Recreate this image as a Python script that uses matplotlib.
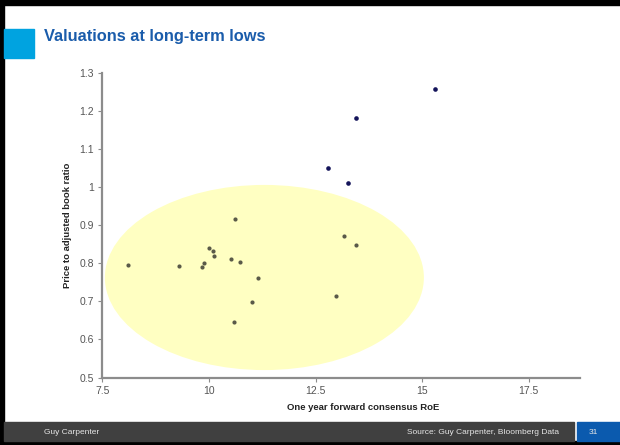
import matplotlib
matplotlib.use("Agg")
import matplotlib.pyplot as plt
from matplotlib.patches import Ellipse, Rectangle
from matplotlib.ticker import FuncFormatter

plt.rcParams['font.family'] = ['Liberation Sans', 'DejaVu Sans']

# Insurers with the highest valuations (dark markers)
roe_high = [15.31, 13.44, 12.78, 13.25]
pb_high = [1.256, 1.182, 1.049, 1.010]

# Insurers trading near long-term lows (grey markers)
roe_low = [8.11, 9.29, 9.83, 9.88, 10.01, 10.10, 10.11, 10.52, 10.62,
           10.74, 11.14, 11.00, 10.59, 13.17, 13.44, 12.99]
pb_low = [0.796, 0.793, 0.791, 0.800, 0.840, 0.833, 0.819, 0.811, 0.915,
          0.802, 0.760, 0.699, 0.646, 0.871, 0.848, 0.715]

x_ticks = [7.5, 10, 12.5, 15, 17.5]
y_ticks = [0.5, 0.6, 0.7, 0.8, 0.9, 1.0, 1.1, 1.2, 1.3]

title = "Valuations at long-term lows"
x_label = "One year forward consensus RoE"
y_label = "Price to adjusted book ratio"
footer_left = "Guy Carpenter"
footer_source = "Source: Guy Carpenter, Bloomberg Data"
page_no = "31"

W, H = 620, 445
fig = plt.figure(figsize=(W / 100, H / 100), dpi=100)
fig.patch.set_facecolor("white")

def fx(px):
    return px / W

def fy(py):
    return 1 - py / H

# Slide frame: black edges, footer bar, page box, title marker
bg = fig.add_axes([0, 0, 1, 1], zorder=-5)
bg.set_xlim(0, W)
bg.set_ylim(H, 0)
bg.axis("off")
bg.add_patch(Rectangle((0, 0), W, 5, color="black"))
bg.add_patch(Rectangle((0, 0), 4, H, color="black"))
bg.add_patch(Rectangle((0, 441), W, 4, color="black"))
bg.add_patch(Rectangle((4, 422), 570, 19, color="#404040"))
bg.add_patch(Rectangle((577, 422), 43, 19, color="#0B5AAE"))
bg.add_patch(Rectangle((4, 29), 30, 29, color="#00A3E0"))

fig.text(fx(44), fy(37), title, fontsize=11.8, fontweight="bold",
         color="#1A5CAB", ha="left", va="center")
fig.text(fx(44), fy(432), footer_left, fontsize=6, color="#E6E6E6",
         ha="left", va="center")
fig.text(fx(559), fy(432), footer_source, fontsize=6, color="#E6E6E6",
         ha="right", va="center")
fig.text(fx(593), fy(432), page_no, fontsize=6, color="#E6E6E6",
         ha="center", va="center")

# Scatter plot area
ax = fig.add_axes([fx(102.3), fy(377.5), fx(580 - 102.3), (377.5 - 72.7) / H])
ax.set_facecolor("none")
ax.set_xlim(7.5, 18.7)
ax.set_ylim(0.5, 1.3)

ax.add_patch(Ellipse((11.30, 0.7625), 7.48, 0.486, facecolor="#FFFFC2",
                     edgecolor="none", zorder=0))

ax.scatter(roe_low, pb_low, s=9, color="#5A5A48", zorder=3, linewidths=0)
ax.scatter(roe_high, pb_high, s=11, color="#14145A", zorder=3, linewidths=0)

for side in ("top", "right"):
    ax.spines[side].set_visible(False)
for side in ("left", "bottom"):
    ax.spines[side].set_color("#8C8C8C")
    ax.spines[side].set_linewidth(1.6)

ax.set_xticks(x_ticks)
ax.set_yticks(y_ticks)
ax.xaxis.set_major_formatter(FuncFormatter(lambda v, p: f"{v:g}"))
ax.yaxis.set_major_formatter(FuncFormatter(lambda v, p: f"{v:g}"))
ax.tick_params(axis="both", direction="out", length=3, width=0.8,
               color="#8C8C8C", labelcolor="#555555", labelsize=7.5, pad=3)

fig.text(fx(68), fy(225), y_label, rotation=90, fontsize=6.8,
         fontweight="bold", color="#222222", ha="center", va="center")
fig.text(fx(363), fy(408), x_label, fontsize=6.8, fontweight="bold",
         color="#222222", ha="center", va="center")

fig.savefig("out.png", dpi=100, facecolor=fig.get_facecolor())
